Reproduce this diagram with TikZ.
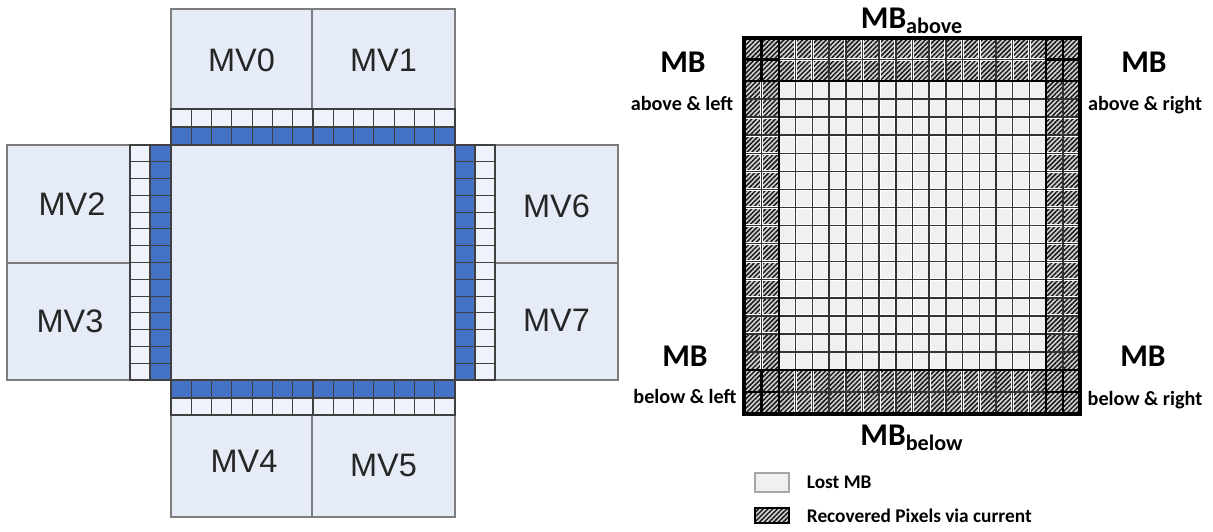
\documentclass[tikz,border=0pt]{standalone}
\usepackage{fontspec}
\setmainfont{Liberation Sans}
\newfontfamily\calibri{Carlito}
\usetikzlibrary{patterns.meta,positioning}
\definecolor{mvfill}  {RGB}{230,236,247}
\definecolor{cellfill}{RGB}{238,242,250}
\definecolor{mvblue}  {RGB}{68,114,196}
\definecolor{mvline}  {RGB}{125,125,125}
\definecolor{lostgray}{RGB}{240,240,240}
\tikzset{
  mvbox/.style   ={fill=mvfill, draw=mvline, line width=0.6pt},
  mvtext/.style  ={font=\fontsize{18.5}{22}\selectfont, text=black!85},
  wcell/.style   ={fill=cellfill, draw=black!75, line width=0.6pt},
  bcell/.style   ={fill=mvblue, draw=black!75, line width=0.6pt},
  hatch/.style   ={pattern={Lines[angle=45,distance=1.9pt,line width=0.85pt]},
                   pattern color=black!90},
  gapwhite/.style={draw=white, line width=1.6pt},
  gapdark/.style ={draw=black!80, line width=0.85pt},
  thickln/.style ={line width=1.6pt},
  mbtext/.style  ={font=\calibri\bfseries\fontsize{18}{20}\selectfont, anchor=base},
  postext/.style ={font=\calibri\bfseries\fontsize{11.5}{13}\selectfont, anchor=base},
  legtext/.style ={font=\calibri\bfseries\fontsize{11}{13}\selectfont},
  lostkey/.style ={fill=lostgray, draw=gray!70, line width=0.8pt,
                   minimum width=0.68cm, minimum height=0.38cm, inner sep=0pt},
  hatchkey/.style={preaction={fill=gray!35}, hatch, draw=black, line width=0.8pt,
                   minimum width=0.68cm, minimum height=0.3cm, inner sep=0pt},
}

\begin{document}
\begin{tikzpicture}[x=0.02cm, y=-0.02cm]
  \useasboundingbox (0,0) rectangle (1213,531);

  %% ---- left: lost MB with its eight neighbouring MVs ----
  \path[mvbox] (171,145) rectangle (455,380);
  \path[mvbox] (171,9)   rectangle (312,109);
  \path[mvbox] (312,9)   rectangle (455,109);
  \path[mvbox] (7,145)   rectangle (130,263);
  \path[mvbox] (7,263)   rectangle (130,380);
  \path[mvbox] (495,145) rectangle (618,263);
  \path[mvbox] (495,263) rectangle (618,380);
  \path[mvbox] (171,415) rectangle (312,517);
  \path[mvbox] (312,415) rectangle (455,517);
  \node[mvtext] (mv0) at (241.5,60)  {MV0};
  \node[mvtext] (mv1) at (383.5,60)  {MV1};
  \node[mvtext] (mv2) at (72,204)    {MV2};
  \node[mvtext] (mv3) at (70,321.5)  {MV3};
  \node[mvtext] (mv6) at (556.5,206) {MV6};
  \node[mvtext] (mv7) at (556.5,320) {MV7};
  \node[mvtext] (mv4) at (244,461)   {MV4};
  \node[mvtext] (mv5) at (383.5,465) {MV5};

  % boundary pixels: blue = inside the lost MB, white = neighbours
  \foreach \i in {0,...,13} {
    \path[wcell] ({171+\i*20.2857},109) rectangle ++(20.2857,18);
    \path[bcell] ({171+\i*20.2857},127) rectangle ++(20.2857,18);
    \path[bcell] ({171+\i*20.2857},380) rectangle ++(20.2857,18);
    \path[wcell] ({171+\i*20.2857},398) rectangle ++(20.2857,17);
    \path[wcell] (130,{145+\i*16.7857}) rectangle ++(20,16.7857);
    \path[bcell] (150,{145+\i*16.7857}) rectangle ++(21,16.7857);
    \path[bcell] (455,{145+\i*16.7857}) rectangle ++(20,16.7857);
    \path[wcell] (475,{145+\i*16.7857}) rectangle ++(20,16.7857);
  }

  %% ---- right: pixel grid, recovered border around the lost MB ----
  \fill[gray!35] (744,38) rectangle (1080,414);
  \fill[hatch]   (744,38) rectangle (1080,414);
  \fill[lostgray] (779,81) rectangle (1046,370);
  \foreach \pass in {gapwhite,gapdark} {
    \foreach \k in {1,...,15} {
      \draw[\pass] ({779+\k*16.6875},38) -- ++(0,376);
      \draw[\pass] (744,{81+\k*18.0625}) -- ++(336,0);
    }
    \foreach \x in {761.5,1063} \draw[\pass] (\x,38) -- (\x,414);
    \foreach \y in {59.5,392}   \draw[\pass] (744,\y) -- (1080,\y);
  }
  \draw[thickln] (779,38) -- (779,414) (1046,38) -- (1046,414)
                 (744,81) -- (1080,81) (744,370) -- (1080,370);
  % corner crosses
  \draw[thickln] (761.5,38) -- (761.5,81) (744,59.5) -- (779,59.5)
                 (1063,38) -- (1063,81)   (1046,59.5) -- (1080,59.5)
                 (761.5,370) -- (761.5,414) (744,392) -- (779,392)
                 (1063,370) -- (1063,414)   (1046,392) -- (1080,392);
  \draw[line width=2.2pt] (744,38) rectangle (1080,414);

  \node[mbtext] (mbabove) at (912,28)  {MB\textsubscript{above}};
  \node[mbtext] (mbbelow) at (912,445) {MB\textsubscript{below}};
  \node[mbtext]  (mbal)  at (683,72)   {MB};
  \node[postext] (mbalt) at (682,110)  {above \& left};
  \node[mbtext]  (mbar)  at (1144,72)  {MB};
  \node[postext] (mbart) at (1145,110) {above \& right};
  \node[mbtext]  (mbbl)  at (685,366)  {MB};
  \node[postext] (mbblt) at (685,403)  {below \& left};
  \node[mbtext]  (mbbr)  at (1143,366) {MB};
  \node[postext] (mbbrt) at (1145,405) {below \& right};

  % legend
  \node[lostkey]  (keylost)  at (772,482.5) {};
  \node[legtext, right=0.22cm of keylost]  (lbllost)  {Lost MB};
  \node[hatchkey] (keyhatch) at (772,515.5) {};
  \node[legtext, right=0.22cm of keyhatch] (lblhatch) {Recovered Pixels via current};
\end{tikzpicture}
\end{document}
